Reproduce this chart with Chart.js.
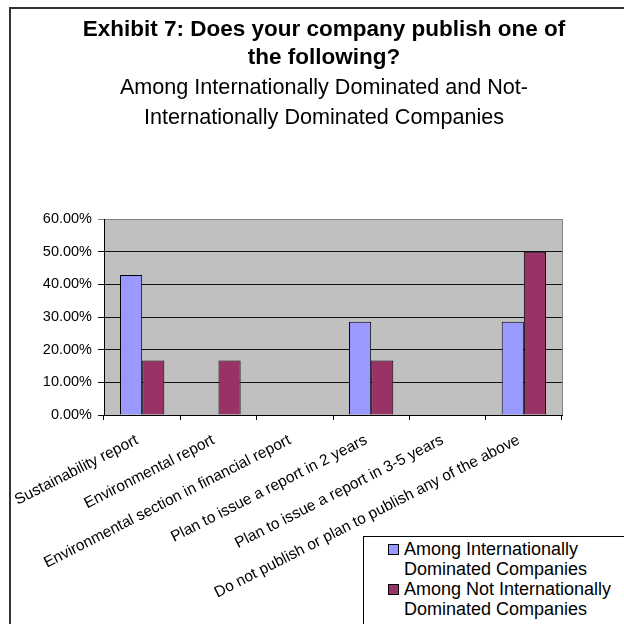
<!DOCTYPE html>
<html>
<head>
  <title>Exhibit 7</title>
  <style>
    body {
      margin: 0;
      overflow: hidden;
      background: #fff;
      font-family: "Liberation Sans", Arial, sans-serif;
    }
    #frame {
      position: absolute;
      left: 9px;
      top: 7px;
      width: 626px;
      height: 640px;
      border: 2px solid #333;
    }
    #legend {
      position: absolute;
      left: 363px;
      top: 536px;
      width: 300px;
      height: 120px;
      border: 1px solid #000;
      background: #fff;
      font-size: 18px;
      line-height: 20px;
      color: #000;
      padding-top: 2px;
    }
    .item {
      position: relative;
      padding-left: 40px;
    }
    .swatch {
      position: absolute;
      left: 24px;
      top: 5px;
      width: 9px;
      height: 9px;
      border: 1px solid #000;
    }
  </style>
</head>
<body>
  <div id="frame">
    <canvas id="chart" width="626" height="640"></canvas>
  </div>
  <div id="legend"></div>

  <script src="https://cdn.jsdelivr.net/npm/chart.js"></script>
  <script>
    // data (percent)
    const categories = [
      'Sustainability report',
      'Environmental report',
      'Environmental section in financial report',
      'Plan to issue a report in 2 years',
      'Plan to issue a report in 3-5 years',
      'Do not publish or plan to publish any of the above'
    ];
    const intlDominated = [42.86, 0, 0, 28.57, 0, 28.57];
    const notIntlDominated = [16.67, 16.67, 0, 16.67, 0, 50];
    const seriesNames = [
      ['Among Internationally', 'Dominated Companies'],
      ['Among Not Internationally', 'Dominated Companies']
    ];
    const seriesColors = ['#9999FF', '#993366'];
    const yMin = 0, yMax = 60, yStep = 10;

    const titleLines = ['Exhibit 7: Does your company publish one of', 'the following?'];
    const subtitleLines = ['Among Internationally Dominated and Not-', 'Internationally Dominated Companies'];

    const font = '"Liberation Sans", Arial, sans-serif';

    // grey plot area with grey right border
    const plotBg = {
      id: 'plotBg',
      beforeDraw(chart) {
        const a = chart.chartArea;
        const ctx = chart.ctx;
        ctx.save();
        ctx.fillStyle = '#C0C0C0';
        ctx.fillRect(a.left, a.top, a.right - a.left, a.bottom - a.top);
        ctx.strokeStyle = '#808080';
        ctx.lineWidth = 1;
        ctx.beginPath();
        ctx.moveTo(Math.round(a.right) + 0.5, a.top);
        ctx.lineTo(Math.round(a.right) + 0.5, a.bottom);
        ctx.stroke();
        ctx.restore();
      }
    };

    const ctx = document.getElementById('chart').getContext('2d');
    const chart = new Chart(ctx, {
      type: 'bar',
      data: {
        labels: categories,
        datasets: [
          {
            label: seriesNames[0].join(' '),
            data: intlDominated,
            backgroundColor: seriesColors[0],
            borderColor: '#000',
            borderWidth: 1
          },
          {
            label: seriesNames[1].join(' '),
            data: notIntlDominated,
            backgroundColor: seriesColors[1],
            borderColor: '#000',
            borderWidth: 1
          }
        ]
      },
      options: {
        responsive: false,
        animation: false,
        layout: { padding: 0 },
        datasets: {
          bar: { categoryPercentage: 0.58, barPercentage: 1.0 }
        },
        plugins: {
          legend: { display: false },
          tooltip: { enabled: false },
          title: {
            display: true,
            text: titleLines,
            color: '#000',
            font: { family: font, size: 22.5, weight: 'bold', lineHeight: 1.244 },
            padding: { top: 7, bottom: 0 }
          },
          subtitle: {
            display: true,
            text: subtitleLines,
            color: '#000',
            font: { family: font, size: 21.6, weight: 'normal', lineHeight: 1.39 },
            padding: { top: 1, bottom: 86 }
          }
        },
        scales: {
          x: {
            grid: {
              display: true,
              drawOnChartArea: false,
              drawTicks: true,
              tickLength: 5,
              color: '#000',
              offset: true
            },
            border: { color: '#000', width: 1 },
            ticks: {
              color: '#000',
              font: { family: font, size: 15.5 },
              autoSkip: false,
              minRotation: 27,
              maxRotation: 27,
              labelOffset: -5,
              padding: 11
            },
            afterFit(scale) {
              scale.height = 640 - 406;
              // the long rotated labels may run left of the plot, as in the original
              scale.paddingLeft = 0;
              scale.paddingRight = 0;
            }
          },
          y: {
            min: yMin,
            max: yMax,
            grid: {
              color: (c) => (c.tick && c.tick.value === yMax ? '#808080' : '#111'),
              tickLength: 6
            },
            border: { color: '#000', width: 1 },
            ticks: {
              stepSize: yStep,
              color: '#000',
              font: { family: font, size: 14.5 },
              padding: 6,
              callback: (v) => v.toFixed(2) + '%'
            },
            afterFit(scale) { scale.width = 93; }
          },
          // empty strip on the right so the titles stay centred on the whole box
          spacer: {
            type: 'linear',
            position: 'right',
            display: true,
            grid: { display: false },
            border: { display: false },
            ticks: { display: false },
            afterFit(scale) { scale.width = 75; }
          }
        }
      },
      plugins: [plotBg]
    });

    // legend with wrapped labels, like the original
    const legend = document.getElementById('legend');
    chart.data.datasets.forEach((ds, i) => {
      const item = document.createElement('div');
      item.className = 'item';
      const sw = document.createElement('span');
      sw.className = 'swatch';
      sw.style.background = ds.backgroundColor;
      item.appendChild(sw);
      seriesNames[i].forEach((line) => {
        const l = document.createElement('div');
        l.textContent = line;
        item.appendChild(l);
      });
      legend.appendChild(item);
    });
  </script>
</body>
</html>
